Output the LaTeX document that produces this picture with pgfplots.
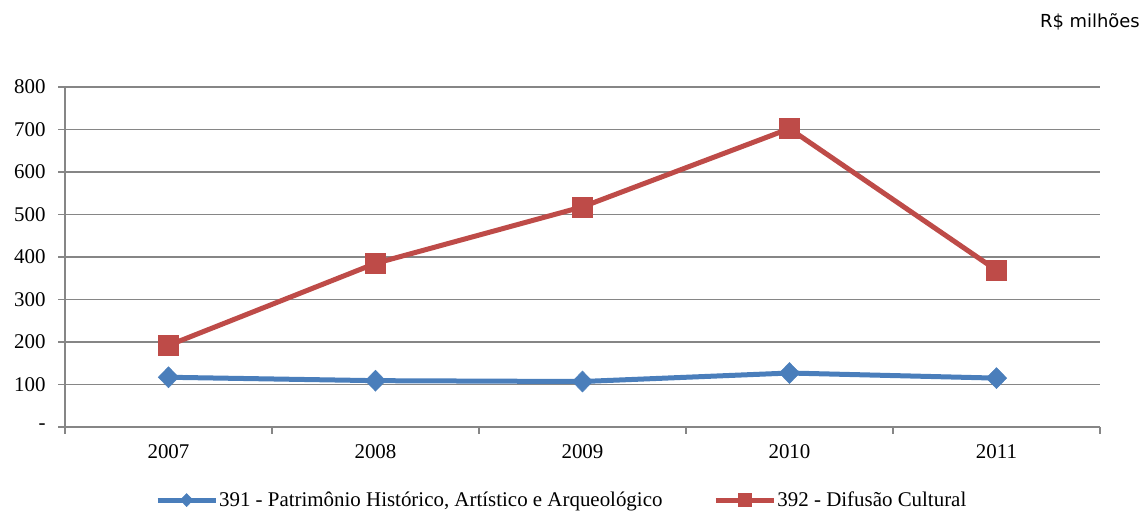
\documentclass[border=0pt]{standalone}
\usepackage{fontspec}
\setmainfont{Liberation Serif}
\newfontfamily\sansf{DejaVu Sans}
\usepackage{pgfplots}
\pgfplotsset{compat=1.18}
\definecolor{cblue}{HTML}{4A7EBB}
\definecolor{cred}{HTML}{BE4B48}
\definecolor{cgrid}{HTML}{868686}
\begin{document}
\begin{tikzpicture}[x=1bp,y=1bp]
\useasboundingbox (0,0) rectangle (1142,513);
\node[anchor=base east, inner sep=0pt, font=\sansf\fontsize{18}{21}\selectfont] at (1140,485) {R\$ milhões};
\begin{axis}[
  at={(65bp,86bp)}, anchor=south west,
  scale only axis, width=1035bp, height=340bp,
  xmin=-0.5, xmax=4.5, ymin=0, ymax=800,
  axis lines*=left,
  axis line style={cgrid, line width=1.8bp},
  xtick={0,1,2,3,4},
  xticklabel={\pgfmathparse{int(\tick+2007)}\pgfmathresult},
  major x tick style={draw=none},
  minor xtick={-0.5,0.5,1.5,2.5,3.5,4.5},
  ytick={0,100,...,800},
  yticklabel={\pgfmathparse{int(\tick)}\ifnum\pgfmathresult=0 -\else\pgfmathresult\fi},
  tick align=outside,
  major tick length=7bp, minor tick length=7bp,
  tick style={cgrid, line width=1.8bp},
  ymajorgrids,
  grid style={cgrid, line width=1.8bp},
  ticklabel style={font=\fontsize{21}{24}\selectfont, text=black},
  yticklabel style={xshift=-9bp},
  xticklabel style={yshift=-7bp},
  legend columns=2,
  legend style={at={(0.084,-0.215)}, anchor=west, draw=none, fill=none,
    font=\fontsize{21}{24}\selectfont,
    /tikz/every even column/.append style={column sep=50bp},
    nodes={inner sep=1bp}},
  legend image code/.code={\draw[mark repeat=2,mark phase=2, mark size=6.5bp] plot coordinates {(0bp,0bp) (29bp,0bp) (58bp,0bp)};},
]
\addplot[cblue, line width=5bp, mark=diamond*, mark size=10.5bp, mark options={line width=0.5bp, xscale=1.3}]
  coordinates {(0,117) (1,109) (2,107) (3,127) (4,115)};
\addlegendentry{391 - Patrimônio Histórico, Artístico e Arqueológico}
\addplot[cred, line width=5bp, mark=square*, mark size=10bp, mark options={line width=0.5bp}]
  coordinates {(0,192) (1,385) (2,518) (3,702) (4,369)};
\addlegendentry{392 - Difusão Cultural}
\end{axis}
\end{tikzpicture}
\end{document}
